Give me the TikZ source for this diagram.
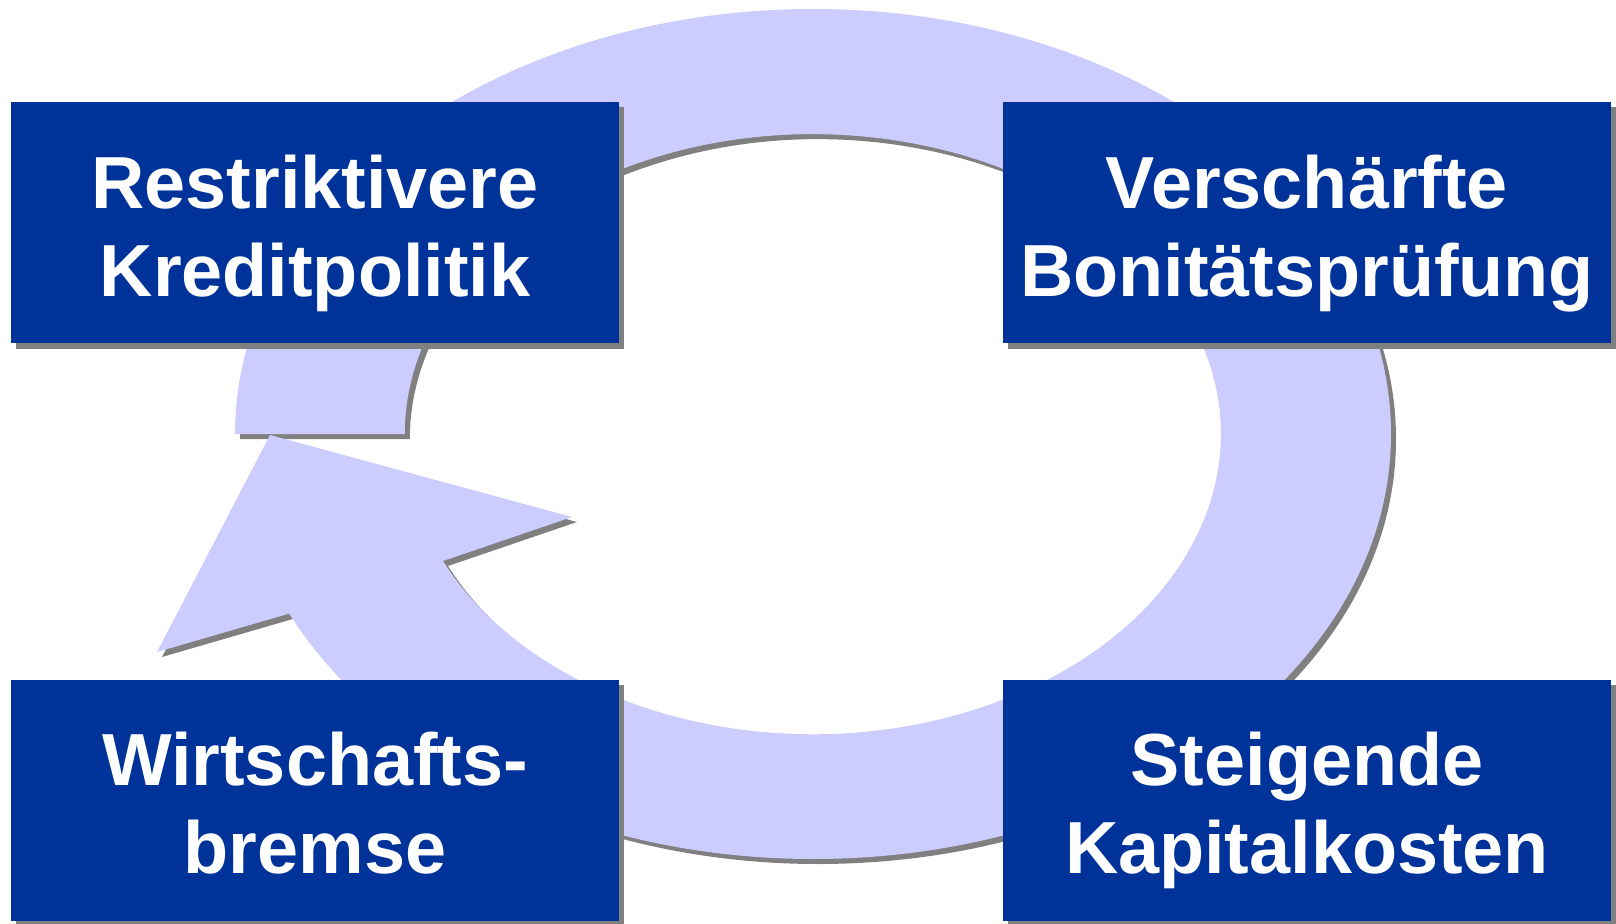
\documentclass[tikz,border=0pt]{standalone}
\usepackage{fontspec}
\setmainfont{Liberation Sans}
\usepackage{xcolor}
\usepackage{tikz}
\usetikzlibrary{shadows}

\definecolor{kastenblau}{HTML}{003399}
\definecolor{ringfarbe}{HTML}{CCCCFF}
\definecolor{schatten}{HTML}{808080}

\begin{document}
\begin{tikzpicture}[
    schattig/.style={drop shadow={shadow xshift=0.05cm, shadow yshift=-0.05cm, fill=schatten, opacity=1}},
    kasten/.style={fill=kastenblau, text=white, minimum width=6.08cm, minimum height=2.41cm,
        inner sep=0pt, align=center, text height=46.6pt, text depth=5pt,
        font=\bfseries\fontsize{21}{25}\selectfont, schattig}]
    \useasboundingbox (0,0) rectangle (16.16,9.23);

    % Kreislauf-Pfeil
    \fill[ringfarbe, schattig] (2.35,4.89)
        arc[start angle=180, end angle=-155, x radius=5.78, y radius=4.25]
        -- (1.57,2.71) -- (2.70,4.88) -- (5.72,4.06) -- (4.43,3.62)
        arc[start angle=-155, end angle=180, x radius=4.08, y radius=3.00]
        -- cycle;

    % Kästen
    \node[kasten] (kredit)   at (3.15,7.00)  {Restriktivere\\Kreditpolitik};
    \node[kasten] (bonitaet) at (13.07,7.00) {Verschärfte\\Bonitätsprüfung};
    \node[kasten] (kapital)  at (13.07,1.23) {Steigende\\Kapitalkosten};
    \node[kasten] (bremse)   at (3.15,1.23)  {Wirtschafts-\\bremse};
\end{tikzpicture}
\end{document}
